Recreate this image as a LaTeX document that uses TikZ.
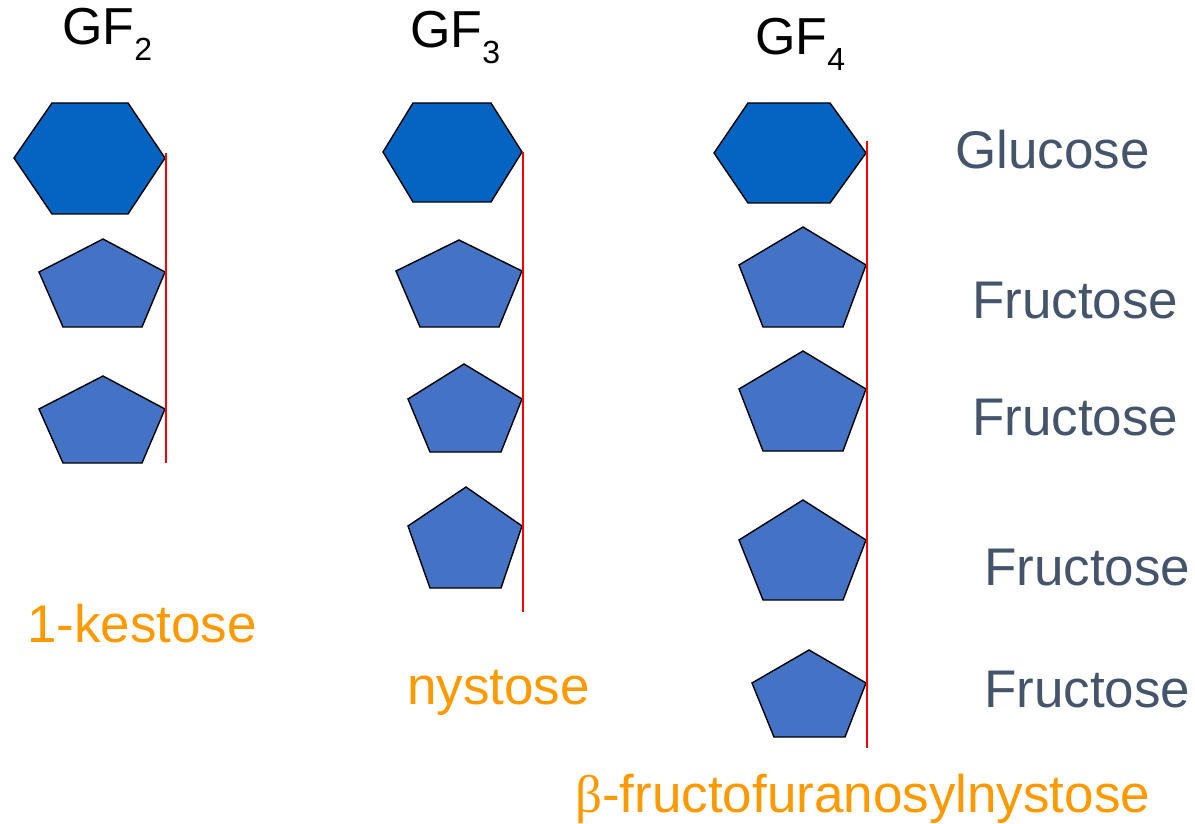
\documentclass[tikz,border=0pt]{standalone}
\usepackage{fontspec}
\setmainfont{Liberation Sans}
\newfontfamily\betafont{Liberation Serif}
\definecolor{hexblue}{HTML}{0563C1}
\definecolor{penblue}{HTML}{4472C4}
\definecolor{kestorange}{HTML}{FF9900}
\definecolor{slate}{HTML}{44546A}
\tikzset{
  hexa/.style={fill=hexblue,draw=black,line width=1.4pt,line join=miter},
  penta/.style={fill=penblue,draw=black,line width=1.4pt,line join=miter},
  bond/.style={draw=red,line width=1.8pt},
  gflabel/.style={anchor=base west,inner sep=0pt,font=\fontsize{52}{52}\selectfont,text=black},
  sugar/.style={anchor=base west,inner sep=0pt,font=\fontsize{53}{53}\selectfont,text=slate},
  molname/.style={anchor=base west,inner sep=0pt,font=\fontsize{53}{53}\selectfont,text=kestorange}
}
\newcommand{\subdig}[1]{{\fontsize{32}{32}\selectfont\raisebox{-16pt}{#1}}}
\begin{document}
\begin{tikzpicture}[x=1pt,y=-1pt]
\useasboundingbox (0,0) rectangle (1195,824);
% titles
\node[gflabel] (t2) at (62,45) {GF\subdig{2}};
\node[gflabel] (t3) at (410,48) {GF\subdig{3}};
\node[gflabel] (t4) at (755,55) {GF\subdig{4}};
% GF2
\path[hexa] (14,158) -- (52,103) -- (128,103) -- (165,158) -- (128,214) -- (52,214) -- cycle;
\path[penta] (103,239) -- (165,272) -- (142,327) -- (63,327) -- (39,272) -- cycle;
\path[penta] (103,376) -- (165,409) -- (142,463) -- (63,463) -- (39,409) -- cycle;
\coordinate (a1) at (166,153);
\coordinate (a2) at (166,463);
\draw[bond] (a1) -- (a2);
% GF3
\path[hexa] (383,152) -- (413,103) -- (491,103) -- (522,152) -- (491,202) -- (413,202) -- cycle;
\path[penta] (459,240) -- (522,271) -- (499,327) -- (420,327) -- (396,271) -- cycle;
\path[penta] (464,364) -- (522,399) -- (501,452) -- (430,452) -- (408,399) -- cycle;
\path[penta] (466,487) -- (522,526) -- (501,588) -- (430,588) -- (408,526) -- cycle;
\coordinate (b1) at (523,152);
\coordinate (b2) at (523,612);
\draw[bond] (b1) -- (b2);
% GF4
\path[hexa] (714,153) -- (748,103) -- (830,103) -- (866,153) -- (830,203) -- (748,203) -- cycle;
\path[penta] (803,227) -- (866,265) -- (843,327) -- (763,327) -- (739,265) -- cycle;
\path[penta] (803,351) -- (866,389) -- (843,451) -- (763,451) -- (739,389) -- cycle;
\path[penta] (803,500) -- (866,540) -- (843,600) -- (763,600) -- (739,540) -- cycle;
\path[penta] (809,650) -- (866,683) -- (845,737) -- (774,737) -- (752,683) -- cycle;
\coordinate (c1) at (867,141);
\coordinate (c2) at (867,748);
\draw[bond] (c1) -- (c2);
% sugar labels
\node[sugar] (glc) at (955,168) {Glucose};
\node[sugar] (fr1) at (972,318) {Fructose};
\node[sugar] (fr2) at (972,435) {Fructose};
\node[sugar] (fr3) at (984,585) {Fructose};
\node[sugar] (fr4) at (984,707) {Fructose};
% names
\node[molname] (n2) at (27,642) {1-kestose};
\node[molname] (n3) at (407,704) {nystose};
\node[molname] (n4) at (575,812) {{\betafont β}-fructofuranosylnystose};
\end{tikzpicture}
\end{document}
